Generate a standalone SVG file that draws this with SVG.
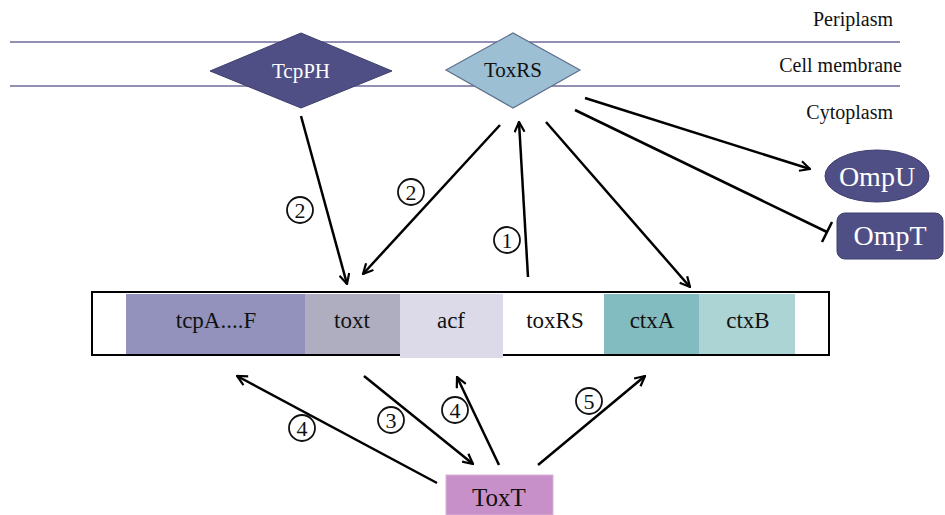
<svg xmlns="http://www.w3.org/2000/svg" width="945" height="515" viewBox="0 0 945 515">
<style>
.t{font-family:"Liberation Serif",serif;}
.lbl{fill:#111;}
.gene{font-size:23px;fill:#111;text-anchor:middle;}
.wt{fill:#fff;}
.con{stroke:#000;stroke-width:2.5;fill:none;}
.mem{stroke:#6e6a9c;stroke-width:1.5;}
.nc{fill:none;stroke:#111;stroke-width:1.8;}
.nd{font-size:22px;fill:#111;text-anchor:middle;}
</style>
<defs>
<marker id="ah" viewBox="0 0 12 12" refX="11" refY="6" markerWidth="12" markerHeight="12" markerUnits="userSpaceOnUse" orient="auto">
<path d="M1,1 L11,6 L1,11" fill="none" stroke="#000" stroke-width="2.2"/>
</marker>
</defs>
<rect width="945" height="515" fill="#fff"/>
<g id="membrane">
<line class="mem" x1="10" y1="42" x2="900" y2="42"/>
<line class="mem" x1="10" y1="86" x2="900" y2="86"/>
<text class="t lbl" font-family="Liberation Serif" x="893" y="26" font-size="20" text-anchor="end">Periplasm</text>
<text class="t lbl" font-family="Liberation Serif" x="902" y="72" font-size="20" text-anchor="end">Cell membrane</text>
<text class="t lbl" font-family="Liberation Serif" x="893" y="119" font-size="20" text-anchor="end">Cytoplasm</text>
</g>
<g id="TcpPH">
<polygon points="210,71 301,33 392,71 301,108" fill="#4f4f86" stroke="#3e3e6e" stroke-width="1"/>
<text class="t wt" font-family="Liberation Serif" x="301" y="78" font-size="21" text-anchor="middle">TcpPH</text>
</g>
<g id="ToxRS">
<polygon points="446,70 513,33 580,70 513,108" fill="#9dbfd4" stroke="#5d6f8c" stroke-width="1.2"/>
<text class="t lbl" font-family="Liberation Serif" x="513" y="77" font-size="21" text-anchor="middle">ToxRS</text>
</g>
<g id="OmpU">
<ellipse cx="877" cy="176" rx="52" ry="26" fill="#4f4f86" stroke="#3e3e6e" stroke-width="1"/>
<text class="t wt" font-family="Liberation Serif" x="877" y="186" font-size="28" text-anchor="middle">OmpU</text>
</g>
<g id="OmpT">
<rect x="837" y="213" width="106" height="46" rx="8" fill="#4f4f86" stroke="#3e3e6e" stroke-width="1"/>
<text class="t wt" font-family="Liberation Serif" x="890" y="245" font-size="28" text-anchor="middle">OmpT</text>
</g>
<g id="genes">
<rect x="92" y="292" width="737" height="63" fill="#fff" stroke="#000" stroke-width="2"/>
<rect x="126" y="294" width="179" height="60" fill="#9292bd"/>
<rect x="305" y="294" width="95" height="60" fill="#aeaec0"/>
<rect x="400" y="294" width="103" height="64" fill="#dcdae8"/>
<rect x="604" y="294" width="95" height="60" fill="#82bcc0"/>
<rect x="699" y="294" width="96" height="60" fill="#acd4d4"/>
<text class="t gene" font-family="Liberation Serif" x="216" y="328">tcpA....F</text>
<text class="t gene" font-family="Liberation Serif" x="352" y="328">toxt</text>
<text class="t gene" font-family="Liberation Serif" x="451" y="328">acf</text>
<text class="t gene" font-family="Liberation Serif" x="555" y="328" font-size="20">toxRS</text>
<text class="t gene" font-family="Liberation Serif" x="652" y="328">ctxA</text>
<text class="t gene" font-family="Liberation Serif" x="748" y="328">ctxB</text>
</g>
<g id="ToxT">
<rect x="446" y="475" width="107" height="40" fill="#c890c8" stroke="#d9b0d9" stroke-width="1"/>
<text class="t lbl" font-family="Liberation Serif" x="499" y="506" font-size="25" text-anchor="middle">ToxT</text>
</g>
<g id="connectors">
<line class="con" x1="301" y1="116" x2="347" y2="284" marker-end="url(#ah)"/>
<line class="con" x1="500" y1="125" x2="363" y2="274" marker-end="url(#ah)"/>
<line class="con" x1="528" y1="277" x2="519" y2="122" marker-end="url(#ah)"/>
<line class="con" x1="546" y1="122" x2="690" y2="287" marker-end="url(#ah)"/>
<line class="con" x1="585" y1="98" x2="810" y2="169" marker-end="url(#ah)"/>
<line class="con" x1="575" y1="110" x2="827" y2="232"/>
<line class="con" x1="822" y1="242" x2="832" y2="222"/>
<line class="con" x1="437" y1="483" x2="237" y2="376" marker-end="url(#ah)"/>
<line class="con" x1="364" y1="376" x2="473" y2="464" marker-end="url(#ah)"/>
<line class="con" x1="499" y1="465" x2="457" y2="377" marker-end="url(#ah)"/>
<line class="con" x1="538" y1="465" x2="645" y2="376" marker-end="url(#ah)"/>
</g>
<g id="labels">
<circle class="nc" cx="300" cy="210" r="13"/><text class="t nd" font-family="Liberation Serif" x="300" y="218">2</text>
<circle class="nc" cx="411" cy="192" r="13"/><text class="t nd" font-family="Liberation Serif" x="411" y="200">2</text>
<circle class="nc" cx="507" cy="240" r="13"/><text class="t nd" font-family="Liberation Serif" x="507" y="248">1</text>
<circle class="nc" cx="302" cy="428" r="13"/><text class="t nd" font-family="Liberation Serif" x="302" y="436">4</text>
<circle class="nc" cx="391" cy="420" r="13"/><text class="t nd" font-family="Liberation Serif" x="391" y="428">3</text>
<circle class="nc" cx="455" cy="410" r="13"/><text class="t nd" font-family="Liberation Serif" x="455" y="418">4</text>
<circle class="nc" cx="589" cy="401" r="13"/><text class="t nd" font-family="Liberation Serif" x="589" y="409">5</text>
</g>
</svg>
